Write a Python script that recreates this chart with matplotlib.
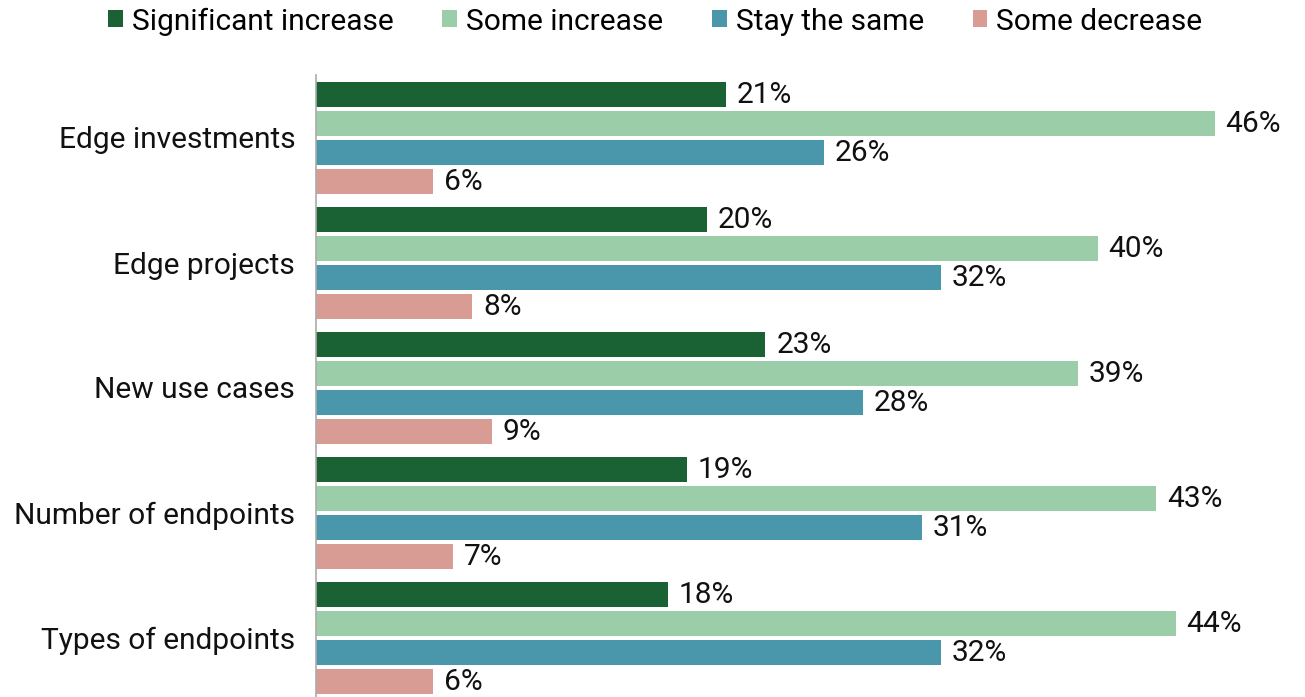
import matplotlib
matplotlib.use('Agg')
import matplotlib.pyplot as plt
from matplotlib.patches import Patch
import numpy as np

# Data
categories = ["Edge investments", "Edge projects", "New use cases",
              "Number of endpoints", "Types of endpoints"]
series_names = ["Significant increase", "Some increase", "Stay the same", "Some decrease"]
significant_increase = [21, 20, 23, 19, 18]
some_increase = [46, 40, 39, 43, 44]
stay_same = [26, 32, 28, 31, 32]
some_decrease = [6, 8, 9, 7, 6]
colors = ["#1a6133", "#9bcea8", "#4a96ab", "#d89c95"]

plt.rcParams['font.family'] = ['Roboto', 'DejaVu Sans']
FS = 21.5

fig = plt.figure(figsize=(13.05, 6.97), dpi=100)
ax = fig.add_axes([316 / 1305, 0.0, 977 / 1305, 1 - 75 / 697])

y = np.arange(len(categories))
pitch = 29 / 125
height = 25 / 125
all_series = [significant_increase, some_increase, stay_same, some_decrease]
for i, (vals, col, name) in enumerate(zip(all_series, colors, series_names)):
    pos = y + (i - 1.5) * pitch
    bars = ax.barh(pos, vals, height=height, color=col, label=name)
    for b, v in zip(bars, vals):
        ax.text(v + 0.55, b.get_y() + b.get_height() / 2 + 0.01, f"{v}%",
                va='center', ha='left', fontsize=FS, color='#111111')

ax.set_xlim(0, 50)
ax.set_ylim(len(categories) - 1 + 59.5 / 125, -62.5 / 125)
ax.set_yticks(y)
ax.set_yticklabels(categories, fontsize=FS, color='#111111')
ax.tick_params(axis='y', length=0, pad=15)
ax.set_xticks([])
for s in ['top', 'right', 'bottom']:
    ax.spines[s].set_visible(False)
ax.spines['left'].set_color('#aaaaaa')
ax.spines['left'].set_linewidth(1.2)

handles = [Patch(facecolor=c, label=n) for c, n in zip(colors, series_names)]
fig.legend(handles=handles, loc='upper center', bbox_to_anchor=(0.502, 1.028), ncol=4,
           frameon=False, fontsize=FS, handlelength=0.5, handleheight=0.5,
           handletextpad=0.3, columnspacing=1.63)

plt.savefig('out.png', dpi=100)
